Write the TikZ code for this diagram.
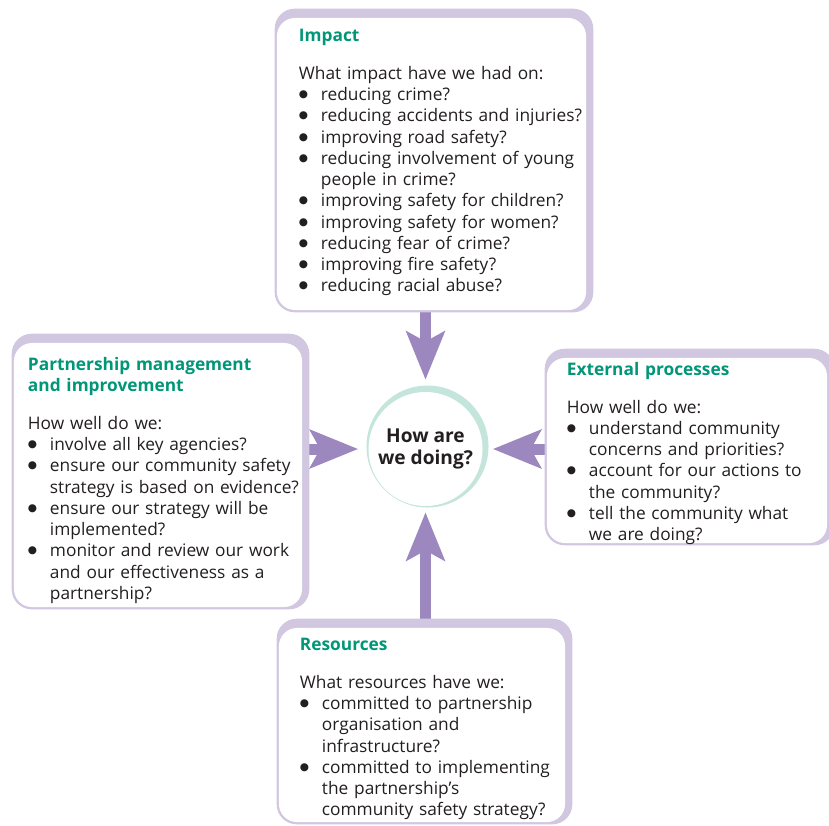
\documentclass[tikz,border=0pt]{standalone}
\usepackage{fontspec}
\setmainfont{Open Sans}
\newfontfamily\symfont{DejaVu Sans}
\usetikzlibrary{arrows.meta,backgrounds}
\definecolor{lavender}{RGB}{209,199,225}
\definecolor{arrowpurple}{RGB}{156,136,190}
\definecolor{titlegreen}{RGB}{0,150,120}
\definecolor{ringteal}{RGB}{196,229,219}
\definecolor{inkgray}{RGB}{35,31,32}
\setlength{\parindent}{0pt}
\newcommand{\bitem}[1]{\par\hangindent=0.55cm\hangafter=1\noindent
  \makebox[0.55cm][l]{\raisebox{2.1pt}{\symfont\fontsize{7.5}{9}\selectfont ●}}#1\par}
\newcommand{\boxtitle}[1]{{\bfseries\color{titlegreen}#1}\par\vspace{12pt}}
\tikzset{
  panel/.style={fill=white, rounded corners=0.45cm, inner sep=0pt},
  paneltext/.style={anchor=north west, inner sep=0pt, text width=8cm, align=left,
    text=inkgray, font=\fontsize{12.3}{15.1}\selectfont},
  backing/.style={fill=lavender, rounded corners=0.5cm},
  bigarrow/.style={draw=arrowpurple, line width=0.275cm,
    -{Stealth[length=1.2cm, width=0.95cm, inset=0.25cm]}},
}
\begin{document}
\begin{tikzpicture}[x=0.025cm, y=-0.025cm]
  \useasboundingbox (0,0) rectangle (829,825);
  \node[panel, minimum width=7.725cm, minimum height=7.3cm] (impact) at (431.5,164) {};
  \node[panel, minimum width=7.2cm, minimum height=6.6cm] (partner) at (158,475) {};
  \node[panel, minimum width=7cm, minimum height=4.625cm] (external) at (687,450.5) {};
  \node[panel, minimum width=7.15cm, minimum height=4.85cm] (resources) at (422,725) {};
  \node[circle, fill=white, minimum size=2.85cm, inner sep=0pt, align=center, text=inkgray,
    font=\fontsize{13.6}{15.1}\selectfont\bfseries] (hub) at (425.5,449) {How are\\we doing?};
  \node[paneltext] (impacttext) at ([shift={(22,11)}]impact.north west) {%
    \boxtitle{Impact}
    What impact have we had on:
    \bitem{reducing crime?}
    \bitem{reducing accidents and injuries?}
    \bitem{improving road safety?}
    \bitem{reducing involvement of young\newline people in crime?}
    \bitem{improving safety for children?}
    \bitem{improving safety for women?}
    \bitem{reducing fear of crime?}
    \bitem{improving fire safety?}
    \bitem{reducing racial abuse?}};
  \node[paneltext] (partnertext) at ([shift={(14,14)}]partner.north west) {%
    \boxtitle{Partnership management\\and improvement}
    How well do we:
    \bitem{involve all key agencies?}
    \bitem{ensure our community safety\newline strategy is based on evidence?}
    \bitem{ensure our strategy will be\newline implemented?}
    \bitem{monitor and review our work\newline and our effectiveness as a\newline partnership?}};
  \node[paneltext] (externaltext) at ([shift={(20,4)}]external.north west) {%
    \boxtitle{External processes}
    How well do we:
    \bitem{understand community\newline concerns and priorities?}
    \bitem{account for our actions to\newline the community?}
    \bitem{tell the community what\newline we are doing?}};
  \node[paneltext] (resourcestext) at ([shift={(21,10)}]resources.north west) {%
    \boxtitle{Resources}
    What resources have we:
    \bitem{committed to partnership\newline organisation and\newline infrastructure?}
    \bitem{committed to implementing\newline the partnership's\newline community safety strategy?}};
  \begin{scope}[on background layer]
    \draw[bigarrow, shorten >=0.3cm] (hub.north |- impact.south) -- (hub.north);
    \draw[bigarrow, shorten >=0.25cm] (partner.east |- hub.west) -- (hub.west);
    \draw[bigarrow, shorten >=0.25cm] (external.west |- hub.east) -- (hub.east);
    \draw[bigarrow, shorten >=0.15cm] (hub.south |- resources.north) -- (hub.south);
    \foreach \p in {impact, partner, external, resources}
      \fill[backing] ([shift={(-2,2)}]\p.south west) rectangle ([shift={(7,-9)}]\p.north east);
    \fill[ringteal] ([shift={(2,-2.5)}]hub.center) circle (1.525cm);
  \end{scope}
\end{tikzpicture}
\end{document}
